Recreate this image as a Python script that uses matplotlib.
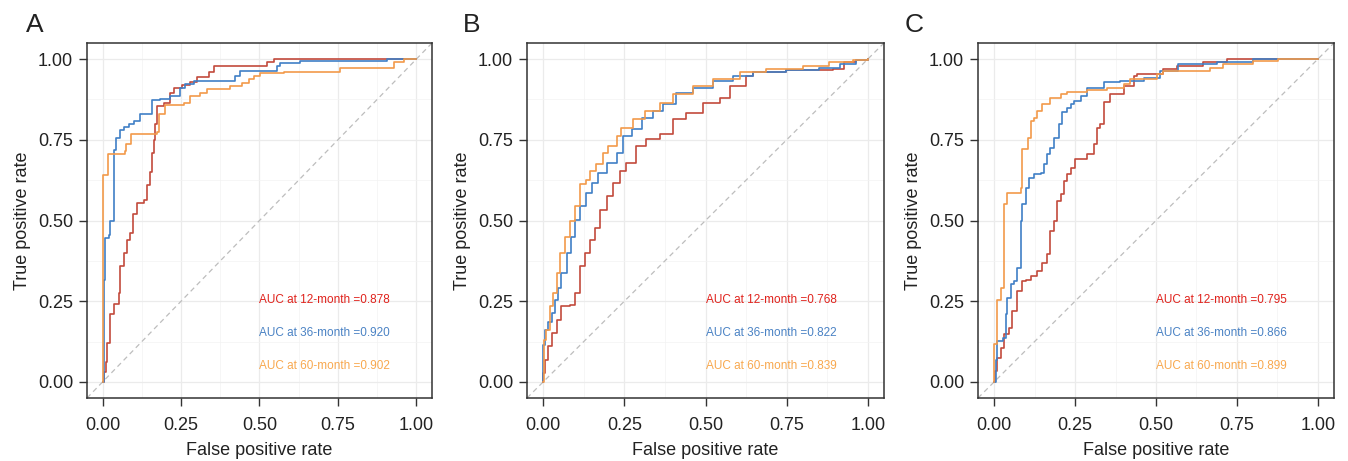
import matplotlib
matplotlib.use("Agg")
import matplotlib.pyplot as plt
from matplotlib.ticker import MultipleLocator

plt.rcParams['font.family'] = ['Liberation Sans', 'DejaVu Sans']

# ---- panel A ----
a12_fpr = [0, 0.003, 0.010, 0.014, 0.024, 0.035, 0.051, 0.056, 0.067, 0.078, 0.088, 0.097, 0.109,
           0.131, 0.141, 0.150, 0.157, 0.165, 0.168, 0.173, 0.194, 0.216, 0.226, 0.253, 0.279,
           0.300, 0.338, 0.354, 0.524, 0.545, 1.0]
a12_tpr = [0, 0.031, 0.062, 0.120, 0.210, 0.240, 0.275, 0.360, 0.400, 0.440, 0.460, 0.520, 0.555,
           0.565, 0.610, 0.650, 0.710, 0.750, 0.800, 0.855, 0.865, 0.896, 0.910, 0.920, 0.930,
           0.945, 0.960, 0.980, 0.990, 1.0, 1.0]

a36_fpr = [0, 0.005, 0.0085, 0.019, 0.024, 0.035, 0.044, 0.054, 0.067, 0.083, 0.099, 0.120, 0.157,
           0.184, 0.216, 0.248, 0.264, 0.290, 0.423, 0.439, 0.556, 0.566, 0.630, 0.906, 1.0]
a36_tpr = [0, 0.316, 0.445, 0.456, 0.497, 0.720, 0.756, 0.780, 0.790, 0.800, 0.808, 0.830, 0.873,
           0.878, 0.886, 0.912, 0.922, 0.933, 0.948, 0.964, 0.980, 0.988, 0.995, 1.0, 1.0]

a60_fpr = [0, 0.0, 0.016, 0.072, 0.075, 0.090, 0.173, 0.179, 0.200, 0.258, 0.279, 0.311, 0.333,
           0.407, 0.444, 0.465, 0.481, 0.503, 0.577, 0.758, 0.928, 0.960, 1.0]
a60_tpr = [0, 0.642, 0.705, 0.715, 0.736, 0.767, 0.774, 0.830, 0.857, 0.865, 0.886, 0.896, 0.909,
           0.917, 0.927, 0.938, 0.948, 0.956, 0.960, 0.974, 0.990, 1.0, 1.0]

# ---- panel B ----
b12_fpr = [0, 0.0, 0.005, 0.015, 0.026, 0.041, 0.056, 0.082, 0.097, 0.113, 0.128, 0.144, 0.159,
           0.174, 0.195, 0.215, 0.236, 0.256, 0.287, 0.318, 0.359, 0.400, 0.441, 0.492, 0.544,
           0.574, 0.626, 0.646, 0.749, 0.892, 0.928, 0.964, 1.0]
b12_tpr = [0, 0.027, 0.068, 0.110, 0.151, 0.193, 0.234, 0.239, 0.275, 0.358, 0.400, 0.441, 0.477,
           0.534, 0.576, 0.617, 0.653, 0.679, 0.731, 0.752, 0.767, 0.814, 0.834, 0.865, 0.881,
           0.917, 0.948, 0.959, 0.967, 0.969, 0.990, 0.998, 1.0]

b36_fpr = [0, 0.0, 0.005, 0.015, 0.026, 0.036, 0.046, 0.056, 0.072, 0.087, 0.097, 0.113, 0.133,
           0.149, 0.169, 0.195, 0.226, 0.246, 0.272, 0.303, 0.338, 0.369, 0.410, 0.462, 0.523,
           0.585, 0.646, 0.749, 0.851, 0.913, 0.964, 1.0]
b36_tpr = [0, 0.115, 0.160, 0.187, 0.213, 0.255, 0.290, 0.337, 0.400, 0.450, 0.503, 0.545, 0.586,
           0.617, 0.648, 0.679, 0.710, 0.762, 0.783, 0.819, 0.840, 0.860, 0.896, 0.912, 0.932,
           0.948, 0.959, 0.967, 0.971, 0.984, 0.998, 1.0]

b60_fpr = [0, 0.002, 0.010, 0.021, 0.031, 0.041, 0.051, 0.067, 0.082, 0.097, 0.113, 0.133, 0.144,
           0.164, 0.185, 0.200, 0.226, 0.241, 0.277, 0.313, 0.359, 0.400, 0.462, 0.523, 0.605,
           0.687, 0.800, 0.882, 0.954, 1.0]
b60_tpr = [0, 0.130, 0.160, 0.234, 0.275, 0.337, 0.400, 0.450, 0.498, 0.545, 0.612, 0.627, 0.653,
           0.674, 0.710, 0.731, 0.762, 0.788, 0.814, 0.840, 0.865, 0.891, 0.917, 0.938, 0.959,
           0.969, 0.979, 0.990, 0.998, 1.0]

# ---- panel C ----
c12_fpr = [0, 0.002, 0.008, 0.021, 0.031, 0.046, 0.056, 0.072, 0.087, 0.097, 0.113, 0.133, 0.149,
           0.164, 0.174, 0.185, 0.195, 0.205, 0.215, 0.226, 0.236, 0.251, 0.287, 0.308, 0.318,
           0.328, 0.338, 0.359, 0.400, 0.431, 0.441, 0.523, 0.564, 0.646, 0.718, 1.0]
c12_tpr = [0, 0.033, 0.074, 0.105, 0.147, 0.168, 0.219, 0.281, 0.312, 0.317, 0.328, 0.343, 0.369,
           0.395, 0.467, 0.498, 0.560, 0.581, 0.623, 0.643, 0.664, 0.690, 0.705, 0.736, 0.788,
           0.798, 0.866, 0.891, 0.917, 0.948, 0.953, 0.969, 0.979, 0.990, 1.0, 1.0]

c36_fpr = [0, 0.005, 0.010, 0.026, 0.036, 0.041, 0.051, 0.062, 0.072, 0.082, 0.087, 0.097, 0.108,
           0.123, 0.144, 0.154, 0.164, 0.174, 0.185, 0.200, 0.210, 0.226, 0.236, 0.246, 0.267,
           0.287, 0.338, 0.390, 0.462, 0.513, 0.569, 0.687, 0.800, 1.0]
c36_tpr = [0, 0.069, 0.126, 0.137, 0.209, 0.260, 0.302, 0.312, 0.354, 0.498, 0.550, 0.602, 0.633,
           0.643, 0.648, 0.674, 0.705, 0.726, 0.757, 0.798, 0.835, 0.850, 0.860, 0.871, 0.886,
           0.912, 0.928, 0.933, 0.943, 0.964, 0.984, 0.992, 1.0, 1.0]

c60_fpr = [0, 0.0, 0.010, 0.021, 0.031, 0.041, 0.082, 0.087, 0.103, 0.113, 0.123, 0.133, 0.149,
           0.174, 0.205, 0.226, 0.287, 0.349, 0.400, 0.421, 0.503, 0.523, 0.667, 0.708, 0.800,
           0.877, 1.0]
c60_tpr = [0, 0.116, 0.255, 0.292, 0.550, 0.586, 0.602, 0.721, 0.757, 0.809, 0.819, 0.840, 0.860,
           0.881, 0.891, 0.897, 0.904, 0.912, 0.922, 0.938, 0.953, 0.964, 0.974, 0.984, 0.993,
           1.0, 1.0]

panel_labels = ['A', 'B', 'C']
auc_12 = ['0.878', '0.768', '0.795']
auc_36 = ['0.920', '0.822', '0.866']
auc_60 = ['0.902', '0.839', '0.899']
months = ['12', '36', '60']

curves = [
    [(a12_fpr, a12_tpr), (a36_fpr, a36_tpr), (a60_fpr, a60_tpr)],
    [(b12_fpr, b12_tpr), (b36_fpr, b36_tpr), (b60_fpr, b60_tpr)],
    [(c12_fpr, c12_tpr), (c36_fpr, c36_tpr), (c60_fpr, c60_tpr)],
]
aucs = [auc_12, auc_36, auc_60]

line_colors = ['#C24A3C', '#3F7FC6', '#F29A4A']
text_colors = ['#E0221C', '#4A82C4', '#F8A84E']

W, H = 1348, 461
fig = plt.figure(figsize=(W / 100, H / 100), dpi=100)
boxes = [(87, 432), (527, 884), (978, 1334)]
top, bottom = 43, 398

for i, (x0, x1) in enumerate(boxes):
    ax = fig.add_axes([x0 / W, (H - bottom) / H, (x1 - x0) / W, (bottom - top) / H])
    ax.set_xlim(-0.05, 1.05)
    ax.set_ylim(-0.05, 1.05)
    ax.xaxis.set_major_locator(MultipleLocator(0.25))
    ax.yaxis.set_major_locator(MultipleLocator(0.25))
    ax.xaxis.set_minor_locator(MultipleLocator(0.125))
    ax.yaxis.set_minor_locator(MultipleLocator(0.125))
    ax.grid(which='major', color='#EBEBEB', linewidth=0.9)
    ax.grid(which='minor', color='#F3F3F3', linewidth=0.5)
    ax.set_axisbelow(True)
    ax.tick_params(which='minor', length=0)
    ax.tick_params(which='major', length=5.5, width=1.0, color='#333333',
                   labelsize=13, labelcolor='#222222', pad=4.5)
    ax.tick_params(axis='x', pad=8)
    ax.xaxis.set_major_formatter(lambda v, p: '%.2f' % v)
    ax.yaxis.set_major_formatter(lambda v, p: '%.2f' % v)
    for s in ax.spines.values():
        s.set_color('#333333')
        s.set_linewidth(1.1)

    ax.axline((0, 0), (1, 1), color='#BDBDBD', linestyle=(0, (4, 3)), linewidth=0.9)

    for k, (fpr, tpr) in enumerate(curves[i]):
        ax.plot(fpr, tpr, drawstyle='steps-post', color=line_colors[k], linewidth=1.2)

    for k, ypos in enumerate([0.255, 0.152, 0.05]):
        ax.text(0.50, ypos, 'AUC at %s-month =%s' % (months[k], aucs[k][i]),
                color=text_colors[k], fontsize=8.5, va='center', ha='left')

    ax.set_xlabel('False positive rate', fontsize=13, color='#222222', labelpad=6)
    ax.set_ylabel('True positive rate', fontsize=13, color='#222222', labelpad=5)

letter_x = [26, 463, 905]
for i, lx in enumerate(letter_x):
    fig.text(lx / W, 1 - 32 / H, panel_labels[i], fontsize=19, color='#222222',
             ha='left', va='baseline')

fig.savefig('out.png', dpi=100)
